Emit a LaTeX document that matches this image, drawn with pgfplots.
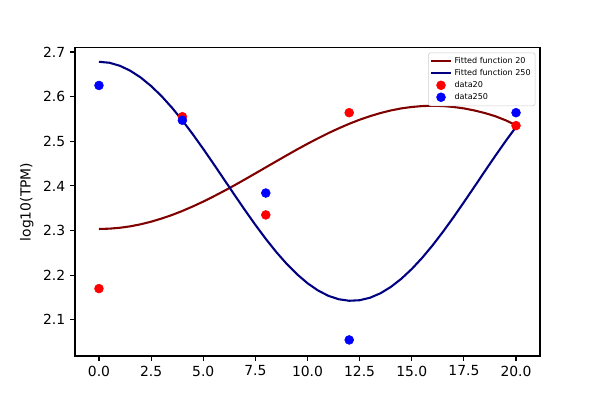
\documentclass[border=0pt]{standalone}
\usepackage{pgfplots}
\pgfplotsset{compat=1.18}
\usepackage{fontspec}
\setmainfont{DejaVu Sans}
\definecolor{mred}{HTML}{800000}
\definecolor{mnavy}{HTML}{000080}
\definecolor{mdotred}{HTML}{FF0000}
\definecolor{mdotblue}{HTML}{0000FF}
\pgfplotsset{
  shortline/.style={legend image code/.code={\draw[##1] (0pt,0pt) -- (14pt,0pt);}},
  shortmark/.style={legend image code/.code={\draw[mark repeat=1,mark phase=1,##1] plot coordinates {(7pt,0pt)};}},
}
\begin{document}
\begin{tikzpicture}
\begin{axis}[
  scale only axis,
  width=334.8pt, height=221.8pt,
  xmin=-1.15, xmax=21.15,
  ymin=2.019, ymax=2.709,
  xtick={0,2.5,5,7.5,10,12.5,15,17.5,20},
  ytick={2.1,2.2,2.3,2.4,2.5,2.6,2.7},
  xticklabel style={/pgf/number format/.cd,fixed,fixed zerofill,precision=1},
  yticklabel style={/pgf/number format/.cd,fixed,fixed zerofill,precision=1},
  /pgf/number format/assume math mode=true,
  tick align=outside,
  tick pos=left,
  major tick length=3.5pt,
  tick style={black, line width=0.8pt},
  axis line style={line width=0.8pt},
  ticklabel style={font=\fontsize{10}{12}\selectfont},
  ylabel={log10(TPM)},
  ylabel style={font=\fontsize{10}{12}\selectfont},
  legend style={at={(0.99,0.985)}, anchor=north east, font=\fontsize{5.8}{7}\selectfont,
    draw=black!20, rounded corners=1.5pt, inner sep=1.2pt, row sep=-1.3pt},
  legend cell align=left,
]
\addplot[mred, line width=1.5pt, no marks, shortline] coordinates {
(0,2.3035)(0.5,2.3042)(1,2.3062)(1.5,2.3094)(2,2.3140)(2.5,2.3198)(3,2.3268)(3.5,2.3348)
(4,2.3439)(4.5,2.3540)(5,2.3648)(5.5,2.3765)(6,2.3887)(6.5,2.4014)(7,2.4146)(7.5,2.4280)
(8,2.4415)(8.5,2.4550)(9,2.4684)(9.5,2.4816)(10,2.4943)(10.5,2.5065)(11,2.5182)(11.5,2.5290)
(12,2.5391)(12.5,2.5482)(13,2.5562)(13.5,2.5632)(14,2.5690)(14.5,2.5736)(15,2.5768)(15.5,2.5788)
(16,2.5795)(16.5,2.5788)(17,2.5768)(17.5,2.5736)(18,2.5690)(18.5,2.5632)(19,2.5562)(19.5,2.5470)
(20,2.5360)};
\addlegendentry{Fitted function 20}
\addplot[mnavy, line width=1.5pt, no marks, shortline] coordinates {
(0,2.6780)(0.5,2.6758)(1,2.6691)(1.5,2.6580)(2,2.6428)(2.5,2.6237)(3,2.6011)(3.5,2.5752)
(4,2.5466)(4.5,2.5156)(5,2.4829)(5.5,2.4490)(6,2.4145)(6.5,2.3798)(7,2.3457)(7.5,2.3127)
(8,2.2813)(8.5,2.2520)(9,2.2255)(9.5,2.2020)(10,2.1820)(10.5,2.1659)(11,2.1538)(11.5,2.1461)
(12,2.1427)(12.5,2.1439)(13,2.1495)(13.5,2.1595)(14,2.1738)(14.5,2.1920)(15,2.2138)(15.5,2.2389)
(16,2.2669)(16.5,2.2974)(17,2.3297)(17.5,2.3634)(18,2.3978)(18.5,2.4325)(19,2.4668)(19.5,2.5001)
(20,2.5320)};
\addlegendentry{Fitted function 250}
\addplot[only marks, mark=*, mark size=3.2pt, mdotred, mark options={draw=mdotred, fill=mdotred}, shortmark] coordinates {
(0,2.170)(4,2.555)(8,2.335)(12,2.564)(20,2.535)};
\addlegendentry{data20}
\addplot[only marks, mark=*, mark size=3.2pt, mdotblue, mark options={draw=mdotblue, fill=mdotblue}, shortmark] coordinates {
(0,2.625)(4,2.547)(8,2.384)(12,2.055)(20,2.564)};
\addlegendentry{data250}
\end{axis}
\path (current axis.south west) ++(-54pt,-31.68pt) rectangle ++(432pt,288pt);
\end{tikzpicture}
\end{document}
